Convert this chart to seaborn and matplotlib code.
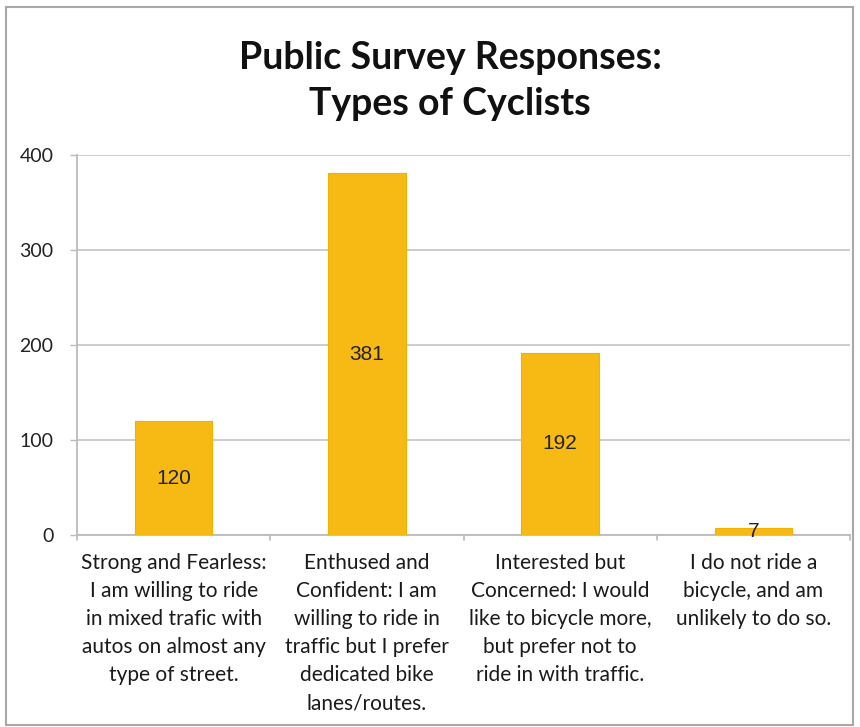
import matplotlib
matplotlib.use("Agg")
import matplotlib.pyplot as plt
import seaborn as sns
import pandas as pd
from matplotlib.patches import Rectangle

# Survey results
categories = [
    "Strong and Fearless:\nI am willing to ride\nin mixed trafic with\nautos on almost any\ntype of street.",
    "Enthused and\nConfident: I am\nwilling to ride in\ntraffic but I prefer\ndedicated bike\nlanes/routes.",
    "Interested but\nConcerned: I would\nlike to bicycle more,\nbut prefer not to\nride in with traffic.",
    "I do not ride a\nbicycle, and am\nunlikely to do so.",
]
responses = [120, 381, 192, 7]
y_ticks = [0, 100, 200, 300, 400]

df = pd.DataFrame({"category": categories, "responses": responses})

sns.set_theme(style="white")
plt.rcParams["font.family"] = ["Lato", "DejaVu Sans"]

W, H = 860, 727
fig = plt.figure(figsize=(W / 100, H / 100), dpi=100)
fig.patch.set_facecolor("white")

left, right, bottom_px, top_px = 77, 850, 535, 155
ax = fig.add_axes([left / W, 1 - bottom_px / H, (right - left) / W, (bottom_px - top_px) / H])

bar_color = "#F7BA14"
sns.barplot(data=df, x="category", y="responses", ax=ax, color=bar_color,
            saturation=1, width=0.4, edgecolor="#F2B000", linewidth=0.8, zorder=3)

ax.set_ylim(0, 400)
ax.set_xlim(-0.5, 3.5)
ax.set_yticks(y_ticks)
ax.set_yticklabels([str(t) for t in y_ticks], fontsize=14, color="#222222")
ax.yaxis.grid(True, color="#C8C8C8", linewidth=1.3, zorder=0)
ax.set_axisbelow(True)
ax.set_xlabel("")
ax.set_ylabel("")

for side in ["top", "right"]:
    ax.spines[side].set_visible(False)
ax.spines["left"].set_color("#BBBBBB")
ax.spines["left"].set_linewidth(1.3)
ax.spines["bottom"].set_color("#BBBBBB")
ax.spines["bottom"].set_linewidth(1.3)

ax.tick_params(axis="y", length=5, color="#BBBBBB", width=1, pad=12, left=True)
ax.tick_params(axis="x", length=0, pad=13)
ax.set_xticks(range(len(categories)))
ax.set_xticklabels(categories, fontsize=15, color="#1A1A1A", linespacing=1.5,
                   va="top", ha="center")

# category separators on the x axis
for b in [-0.5, 0.5, 1.5, 2.5, 3.5]:
    ax.plot([b, b], [0, -5], color="#BBBBBB", lw=1.2, clip_on=False, zorder=4)

# value labels centred in each bar
for i, v in enumerate(responses):
    ax.text(i, v / 2, str(v), ha="center", va="center",
            fontsize=15, color="#222222",
            family=["Liberation Sans Narrow", "Liberation Sans", "DejaVu Sans"],
            zorder=5)

fig.text(450 / W, 1 - 58 / H, "Public Survey Responses:", ha="center", va="center",
         fontsize=27, fontweight="bold", color="#111111")
fig.text(450 / W, 1 - 104 / H, "Types of Cyclists", ha="center", va="center",
         fontsize=27, fontweight="bold", color="#111111")

# outer chart frame
fig.patches.append(Rectangle((6 / W, 2 / H), 847 / W, 1 - 9 / H, transform=fig.transFigure,
                             fill=False, edgecolor="#A8A8A8", linewidth=1.5))

fig.savefig("out.png", dpi=100, facecolor="white")
